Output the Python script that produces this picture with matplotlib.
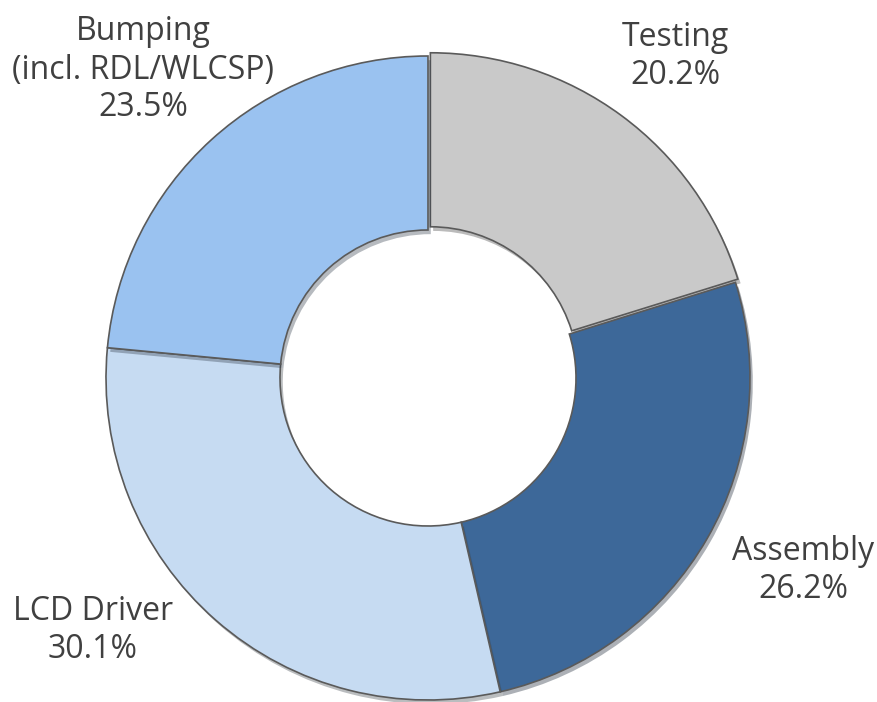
import matplotlib.pyplot as plt
import matplotlib.patheffects as pe

labels = ['Testing', 'Assembly', 'LCD Driver', 'Bumping\n(incl. RDL/WLCSP)']
shares = [20.2, 26.2, 30.1, 23.5]
colors = ['#c9c9c9', '#3d6899', '#c6dbf2', '#9ac2f0']

# label anchor points (pixels, top-left origin)
label_pos = [(675, 57), (803, 570), (93, 630), (143, 70)]

W, H = 877, 702
cx, cy = 428, 378
r_out = 322
r_in = 148

plt.rcParams['font.family'] = ['Open Sans', 'DejaVu Sans']

fig = plt.figure(figsize = (W / 100, H / 100), dpi = 100)
ax = fig.add_axes([0, 0, 1, 1])
ax.set_xlim(0, W)
ax.set_ylim(0, H)
ax.set_aspect('equal')
ax.axis('off')

wedges, _ = ax.pie(shares, colors = colors, startangle = 90, counterclock = False,
                   center = (cx, H - cy), radius = r_out, explode = [4, 0, 0, 0],
                   wedgeprops = dict(width = r_out - r_in, edgecolor = '#5a5a5a', linewidth = 1.2))
for w in wedges:
    w.set_path_effects([pe.SimplePatchShadow(offset = (2, -3), alpha = 0.35), pe.Normal()])

ax.set_xlim(0, W)
ax.set_ylim(0, H)

for lab, val, (x, y) in zip(labels, shares, label_pos):
    ax.text(x, H - y, f'{lab}\n{val:.1f}%', ha = 'center', va = 'center',
            fontsize = 23, color = '#404040', linespacing = 1.2)

plt.savefig('out.png', dpi = 100)
plt.close()
